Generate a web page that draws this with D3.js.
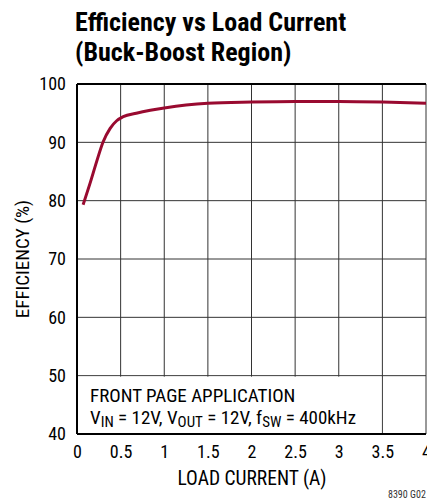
<!DOCTYPE html>
<html>
<head>
<meta charset="utf-8">
<script src="https://cdn.jsdelivr.net/npm/d3@7"></script>
<style>
  body { margin: 0; background: #fff; }
  svg text { font-family: Roboto, sans-serif; font-stretch: condensed; }
</style>
</head>
<body>
<div id="chart"></div>
<script>
// efficiency curve
let loadCurrent = [0.07, 0.15, 0.225, 0.30, 0.38, 0.455, 0.53, 0.68, 0.84, 1.0, 1.25, 1.5, 2.0, 2.5, 3.0, 3.5, 4.0];
let efficiency = [79.3, 83.0, 86.7, 90.1, 92.4, 93.7, 94.4, 95.0, 95.5, 95.9, 96.4, 96.7, 96.9, 97.0, 97.0, 96.9, 96.7];

let xTicks = [0, 0.5, 1, 1.5, 2, 2.5, 3, 3.5, 4];
let yTicks = [40, 50, 60, 70, 80, 90, 100];

let width = 427,
    height = 500;

let margin = {top: 84, right: 1, bottom: 66, left: 77};

let svg = d3.select("#chart")
    .append("svg")
    .attr("width", width)
    .attr("height", height);

let x = d3.scaleLinear().domain([0, 4]).range([margin.left, width - margin.right]);
let y = d3.scaleLinear().domain([40, 100]).range([height - margin.bottom, margin.top]);

// title
svg.append("text")
    .attr("x", 75).attr("y", 31)
    .attr("font-size", 26).attr("font-weight", "bold")
    .text("Efficiency vs Load Current");
svg.append("text")
    .attr("x", 75).attr("y", 61)
    .attr("font-size", 26).attr("font-weight", "bold")
    .text("(Buck-Boost Region)");

// grid
svg.append("g")
    .selectAll("line")
    .data(xTicks)
    .enter().append("line")
    .attr("x1", d => x(d)).attr("x2", d => x(d))
    .attr("y1", y(40)).attr("y2", y(100))
    .attr("stroke", "#333").attr("stroke-width", 1);

svg.append("g")
    .selectAll("line")
    .data(yTicks)
    .enter().append("line")
    .attr("x1", x(0)).attr("x2", x(4))
    .attr("y1", d => y(d)).attr("y2", d => y(d))
    .attr("stroke", "#333").attr("stroke-width", 1);

// white box for the note
svg.append("rect")
    .attr("x", x(0) + 1).attr("y", y(50) + 1)
    .attr("width", x(3.5) - x(0) - 2).attr("height", y(40) - y(50) - 2)
    .attr("fill", "#fff");

// frame
svg.append("line").attr("x1", x(0)).attr("x2", x(4)).attr("y1", y(100)).attr("y2", y(100))
    .attr("stroke", "#000").attr("stroke-width", 2);
svg.append("line").attr("x1", x(0)).attr("x2", x(4)).attr("y1", y(40)).attr("y2", y(40))
    .attr("stroke", "#000").attr("stroke-width", 2);
svg.append("line").attr("x1", x(0)).attr("x2", x(0)).attr("y1", y(40)).attr("y2", y(100))
    .attr("stroke", "#000").attr("stroke-width", 2);

// axes labels
let xAxis = svg.append("g")
    .attr("transform", "translate(0," + y(40) + ")")
    .call(d3.axisBottom(x).tickValues(xTicks).tickSize(0).tickPadding(11).tickFormat(d3.format("")));
xAxis.select(".domain").remove();
xAxis.selectAll("text").attr("font-size", 18).attr("fill", "#000")
    .style("font-family", "Roboto, sans-serif");

let yAxis = svg.append("g")
    .attr("transform", "translate(" + x(0) + ",0)")
    .call(d3.axisLeft(y).tickValues(yTicks).tickSize(0).tickPadding(11));
yAxis.select(".domain").remove();
yAxis.selectAll("text").attr("font-size", 18).attr("fill", "#000")
    .style("font-family", "Roboto, sans-serif");

// curve
let line = d3.line()
    .x((d, i) => x(loadCurrent[i]))
    .y(d => y(d))
    .curve(d3.curveMonotoneX);

svg.append("path")
    .datum(efficiency)
    .attr("d", line)
    .attr("fill", "none")
    .attr("stroke", "#990a30")
    .attr("stroke-width", 3);

// axis titles
svg.append("text")
    .attr("transform", "translate(29," + (y(70)) + ") rotate(-90)")
    .attr("text-anchor", "middle")
    .attr("font-size", 19)
    .text("EFFICIENCY (%)");

svg.append("text")
    .attr("x", 252).attr("y", 485)
    .attr("text-anchor", "middle")
    .attr("font-size", 19.5)
    .text("LOAD CURRENT (A)");

// note
svg.append("text")
    .attr("x", 90).attr("y", 402)
    .attr("font-size", 19)
    .text("FRONT PAGE APPLICATION");

let note = svg.append("text")
    .attr("x", 90).attr("y", 424)
    .attr("font-size", 19);
note.append("tspan").text("V");
note.append("tspan").attr("font-size", 15).attr("dy", 3).text("IN");
note.append("tspan").attr("dy", -3).text(" = 12V, V");
note.append("tspan").attr("font-size", 15).attr("dy", 3).text("OUT");
note.append("tspan").attr("dy", -3).text(" = 12V, f");
note.append("tspan").attr("font-size", 15).attr("dy", 3).text("SW");
note.append("tspan").attr("dy", -3).text(" = 400kHz");

svg.append("text")
    .attr("x", 388).attr("y", 498)
    .attr("font-size", 10)
    .attr("fill", "#333")
    .text("8390 G02");
</script>
</body>
</html>
